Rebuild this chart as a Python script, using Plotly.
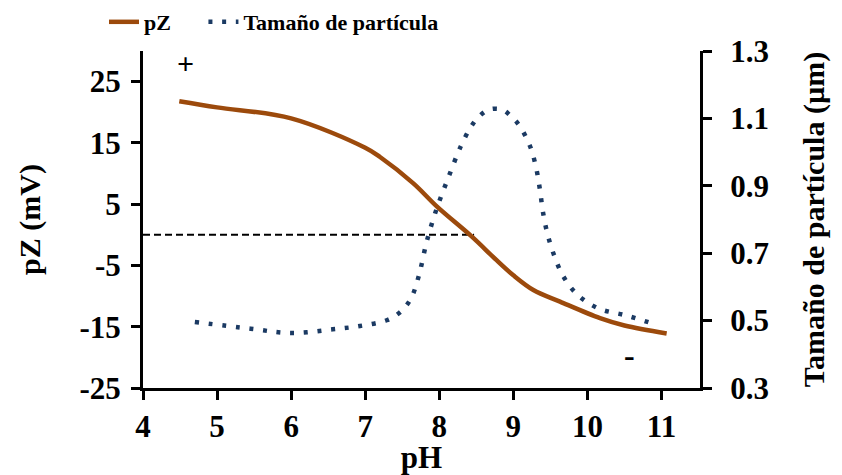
import plotly.graph_objects as go

# pZ (mV) vs pH
ph_pz = [4.49, 5.0, 6.0, 7.0, 7.2, 7.65, 7.97, 8.44, 8.77, 9.0, 9.27, 9.63, 10.17, 10.5, 11.07]
pz = [21.8, 20.8, 19.0, 14.2, 12.7, 8.4, 4.6, -0.3, -4.1, -6.6, -9.0, -10.9, -13.6, -14.8, -16.1]

# Particle size (µm) vs pH
ph_size = [4.70, 5.45, 6.00, 6.56, 6.93, 7.29, 7.45, 7.56, 7.64, 7.73, 7.83, 7.96, 8.12, 8.29,
           8.43, 8.53, 8.67, 8.85, 8.98, 9.09, 9.23, 9.31, 9.36, 9.40, 9.46, 9.55, 9.67, 9.86,
           10.15, 10.51, 10.87]
size = [0.496, 0.476, 0.463, 0.474, 0.484, 0.501, 0.521, 0.546, 0.576, 0.638, 0.734, 0.829, 0.923, 1.017,
        1.076, 1.104, 1.126, 1.126, 1.104, 1.076, 1.015, 0.951, 0.887, 0.822, 0.758, 0.694, 0.633, 0.578,
        0.536, 0.516, 0.492]

# isoelectric reference line
iep_x = [4.0, 8.47]
iep_y = [0, 0]

x_ticks = [4, 5, 6, 7, 8, 9, 10, 11]
pz_ticks = [-25, -15, -5, 5, 15, 25]
size_ticks = [0.3, 0.5, 0.7, 0.9, 1.1, 1.3]

FONT = "Liberation Serif"
BROWN = "#9C4A0C"
NAVY = "#1B3A63"

fig = go.Figure()
fig.add_trace(go.Scatter(x=iep_x, y=iep_y, mode="lines", showlegend=False,
                         line=dict(color="black", width=2, dash="7px,4px"), yaxis="y"))
fig.add_trace(go.Scatter(x=ph_pz, y=pz, mode="lines", name="<b>pZ</b>\u00a0\u00a0\u00a0\u00a0\u00a0",
                         line=dict(color=BROWN, width=4.5, shape="spline"), yaxis="y"))
fig.add_trace(go.Scatter(x=ph_size, y=size, mode="lines", name="<b>Tamaño de partícula</b>",
                         line=dict(color=NAVY, width=4.5, shape="spline", dash="4px,9.7px"), yaxis="y2"))

fig.add_annotation(x=4.58, y=27.9, xref="x", yref="y", text="<b>+</b>", showarrow=False,
                   font=dict(family=FONT, size=30, color="black"))
fig.add_annotation(x=10.57, y=-19.6, xref="x", yref="y", text="<b>-</b>", showarrow=False,
                   font=dict(family=FONT, size=32, color="black"))

axis_common = dict(showgrid=False, zeroline=False, showline=True, linecolor="black", linewidth=3,
                   ticks="outside", ticklen=9, tickwidth=3, tickcolor="black",
                   tickfont=dict(family=FONT, size=31, color="black"))

fig.update_layout(
    width=842, height=475,
    margin=dict(l=143, r=142, t=51, b=87, autoexpand=False),
    paper_bgcolor="white", plot_bgcolor="white",
    font=dict(family=FONT, color="black"),
    xaxis=dict(range=[4, 11.52], tickvals=x_ticks, ticktext=[f"<b>{v}</b>" for v in x_ticks],
               title=dict(text="<b>pH</b>", font=dict(family=FONT, size=31), standoff=2),
               **axis_common),
    yaxis=dict(range=[-25, 30], tickvals=pz_ticks, ticktext=[f"<b>{v}</b>" for v in pz_ticks],
               title=dict(text="<b>pZ (mV)</b>", font=dict(family=FONT, size=30), standoff=30),
               ticklabelstandoff=4,
               **axis_common),
    yaxis2=dict(range=[0.3, 1.3], tickvals=size_ticks, ticktext=[f"<b>{v}</b>" for v in size_ticks],
                overlaying="y", side="right", anchor="x",
                title=dict(text="<b>Tamaño de partícula (µm)</b>", font=dict(family=FONT, size=30), standoff=36),
                ticklabelstandoff=12,
                **axis_common),
    legend=dict(orientation="h", x=-0.07, xanchor="left", y=1.086, yanchor="middle",
                font=dict(family=FONT, size=22, color="black"), bgcolor="rgba(0,0,0,0)"),
)

fig.write_html("out.html")
